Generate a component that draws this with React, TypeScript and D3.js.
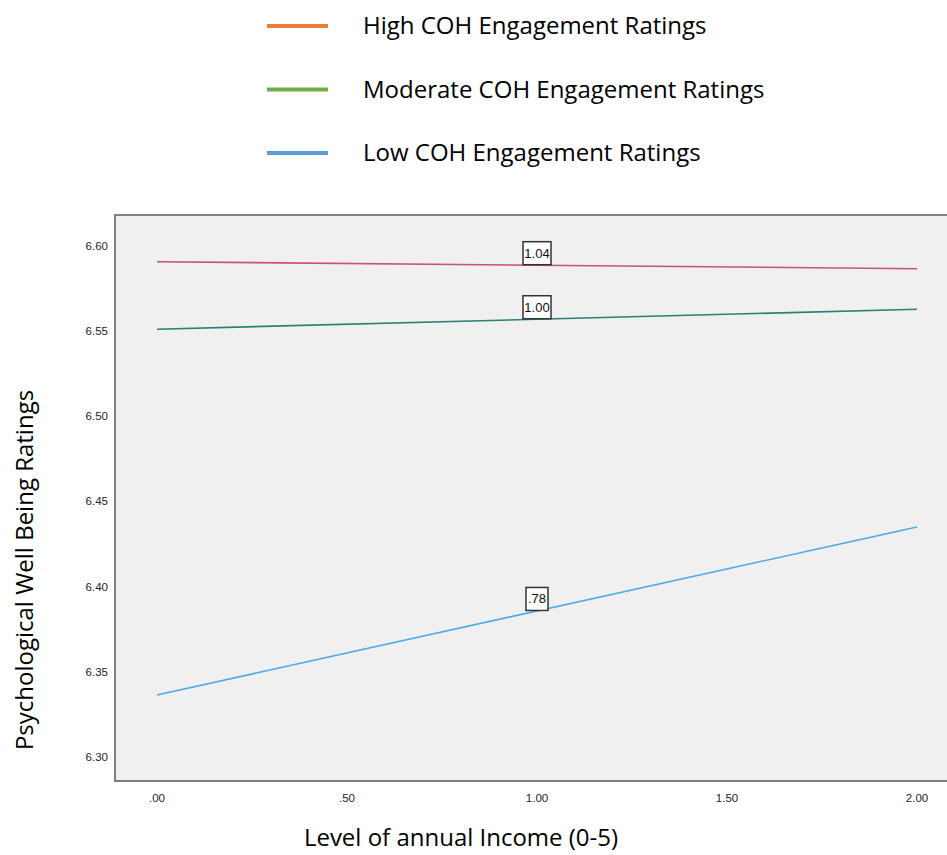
import React from "react";
import * as d3 from "d3";

const seriesNames = [
  "High COH Engagement Ratings",
  "Moderate COH Engagement Ratings",
  "Low COH Engagement Ratings",
];
const legendColors = ["#ED7D31", "#70AD47", "#5B9BD5"];
const lineColors = ["#c9507f", "#2b7f75", "#4ba9ea"];
const incomeLevels = [0, 2];
const highValues = [6.5905, 6.5864];
const moderateValues = [6.5509, 6.5626];
const lowValues = [6.3364, 6.4349];
const slopeLabels = ["1.04", "1.00", ".78"];
const xTicks = [0, 0.5, 1, 1.5, 2];
const yTicks = [6.3, 6.35, 6.4, 6.45, 6.5, 6.55, 6.6];

const W = 947;
const H = 855;
const plot = { left: 115, top: 215, right: 952, bottom: 781 };
const narrow = "'Liberation Sans Narrow', 'Arial Narrow', 'Liberation Sans', sans-serif";
const bodyFont = "'Open Sans', 'Liberation Sans', sans-serif";

const fmt = (v: number) => {
  const s = v.toFixed(2);
  return s.startsWith("0") ? s.slice(1) : s;
};

const App: React.FC = () => {
  const x = d3.scaleLinear().domain([0, 2]).range([157, 917]);
  const y = d3.scaleLinear().domain([6.3, 6.6]).range([757, 245.5]);
  const line = d3
    .line<[number, number]>()
    .x((d) => x(d[0]))
    .y((d) => y(d[1]));
  const allSeries = [highValues, moderateValues, lowValues];

  return (
    <svg
      width={W}
      height={H}
      style={{ position: "absolute", left: 0, top: 0, background: "#fff" }}
    >
      {/* legend */}
      {seriesNames.map((name, i) => (
        <g key={name} transform={`translate(0, ${26 + i * 63.5})`}>
          <line x1={267} x2={328} y1={0} y2={0} stroke={legendColors[i]} strokeWidth={4} />
          <text x={363} y={8} fontFamily={bodyFont} fontSize={24} fill="#000">
            {name}
          </text>
        </g>
      ))}

      {/* plot frame */}
      <rect
        x={plot.left}
        y={plot.top}
        width={plot.right - plot.left}
        height={plot.bottom - plot.top}
        fill="#f0f0f0"
        stroke="#7f7f7f"
        strokeWidth={2}
      />

      {/* y ticks */}
      {yTicks.map((t) => (
        <text
          key={t}
          x={108}
          y={y(t) + 4}
          textAnchor="end"
          fontFamily={narrow}
          fontSize={11.5}
          fill="#222"
        >
          {t.toFixed(2)}
        </text>
      ))}

      {/* x ticks */}
      {xTicks.map((t) => (
        <text
          key={t}
          x={x(t)}
          y={802}
          textAnchor="middle"
          fontFamily={narrow}
          fontSize={11.5}
          fill="#222"
        >
          {fmt(t)}
        </text>
      ))}

      {/* lines */}
      {allSeries.map((vals, i) => (
        <path
          key={i}
          d={line(incomeLevels.map((lv, j) => [lv, vals[j]]) as [number, number][]) || ""}
          fill="none"
          stroke={lineColors[i]}
          strokeWidth={1.6}
        />
      ))}

      {/* slope labels at x = 1 */}
      {allSeries.map((vals, i) => {
        const mid = (vals[0] + vals[1]) / 2;
        const cx = x(1);
        const cy = y(mid) - 12;
        const w = slopeLabels[i].length > 3 ? 28 : 22;
        return (
          <g key={`lab-${i}`}>
            <rect
              x={cx - w / 2}
              y={cy - 11.5}
              width={w}
              height={23}
              fill="#fff"
              stroke="#333"
              strokeWidth={1.5}
            />
            <text
              x={cx}
              y={cy + 4.5}
              textAnchor="middle"
              fontFamily={narrow}
              fontSize={13}
              fill="#111"
            >
              {slopeLabels[i]}
            </text>
          </g>
        );
      })}

      {/* axis titles */}
      <text x={461} y={846} textAnchor="middle" fontFamily={bodyFont} fontSize={24} fill="#000">
        Level of annual Income (0-5)
      </text>
      <text
        transform="translate(33, 570) rotate(-90)"
        textAnchor="middle"
        fontFamily={bodyFont}
        fontSize={24}
        fill="#000"
      >
        Psychological Well Being Ratings
      </text>
    </svg>
  );
};

export default App;
